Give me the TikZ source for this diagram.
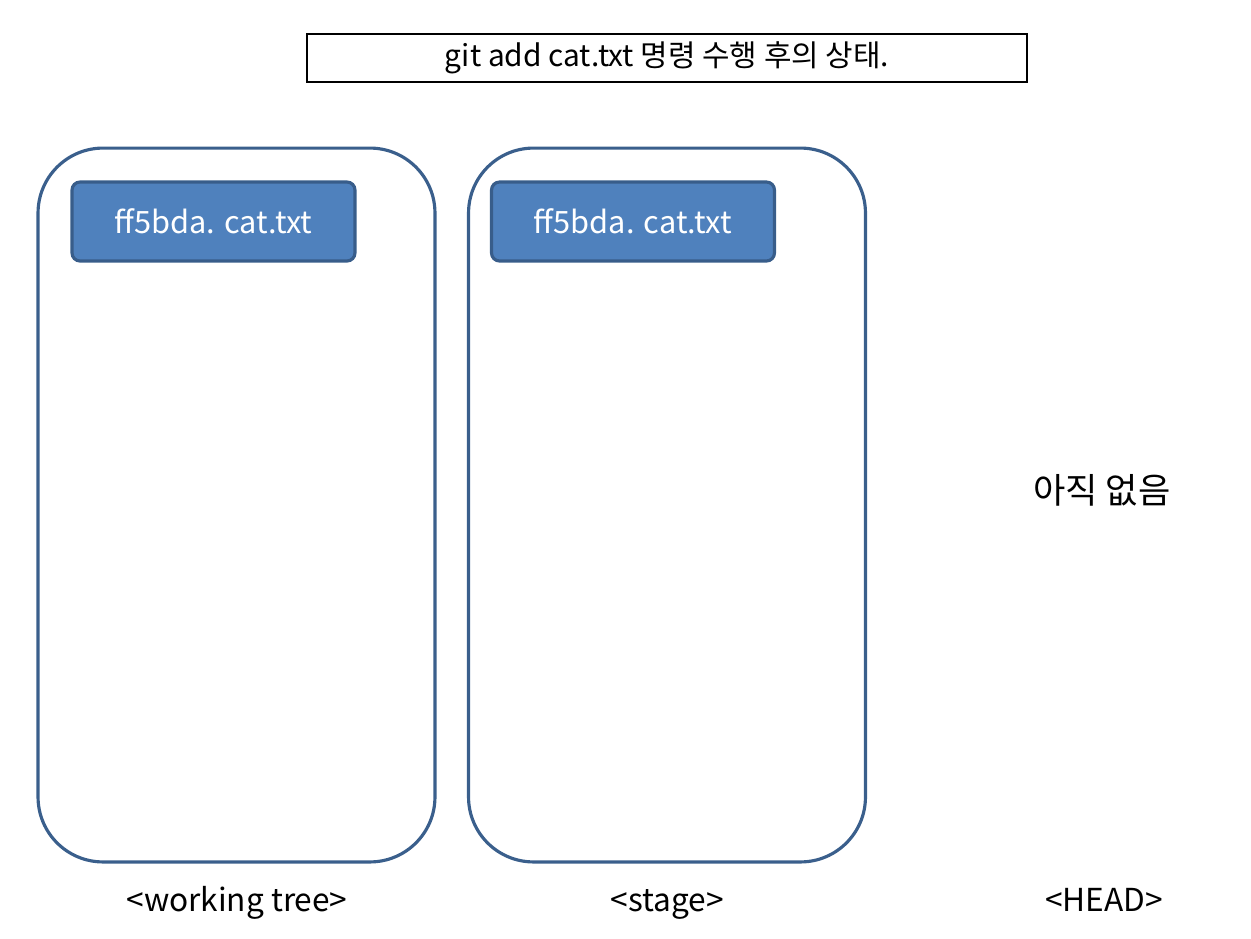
\documentclass[tikz,border=0pt]{standalone}
\usepackage{fontspec}
\setmainfont{Noto Sans CJK KR}
\usepackage{tikz}

\definecolor{boxline}{HTML}{3A5F8C}
\definecolor{filefill}{HTML}{4F81BD}
\definecolor{fileline}{HTML}{385D8A}

\begin{document}
\begin{tikzpicture}[x=0.02cm,y=-0.02cm,
  area/.style={draw=boxline,line width=1.8pt,rounded corners=1.3cm,minimum width=7.94cm,minimum height=14.28cm},
  file/.style={draw=fileline,fill=filefill,line width=1.8pt,rounded corners=0.16cm,text=white,
    minimum width=5.66cm,minimum height=1.58cm,font=\fontsize{17.5}{19}\selectfont},
  caption/.style={font=\fontsize{18}{20}\selectfont,text height=0.45cm,text depth=0.12cm}]

  \useasboundingbox (0,0) rectangle (1251,938);

%% Titel
  \node [draw,line width=0.8pt,minimum width=14.4cm,minimum height=0.96cm,
    font=\fontsize{17}{19}\selectfont] (title) at (667,58)
    {git add cat.txt 명령 수행 후의 상태.};

%% working tree
  \node [area] (wt) at (236.5,505) {};
  \node [file] (wtfile) at (213.5,221.5) {ff5bda. cat.txt};
  \node [caption] (wtlabel) at (237,903) {<working tree>};

%% stage
  \node [area] (st) at (667,505) {};
  \node [file] (stfile) at (633,221.5) {ff5bda. cat.txt};
  \node [caption] (stlabel) at (667,903) {<stage>};

%% HEAD
  \node [font=\fontsize{20}{22}\selectfont] (empty) at (1102,490) {아직 없음};
  \node [caption] (headlabel) at (1104,903) {<HEAD>};

\end{tikzpicture}
\end{document}
